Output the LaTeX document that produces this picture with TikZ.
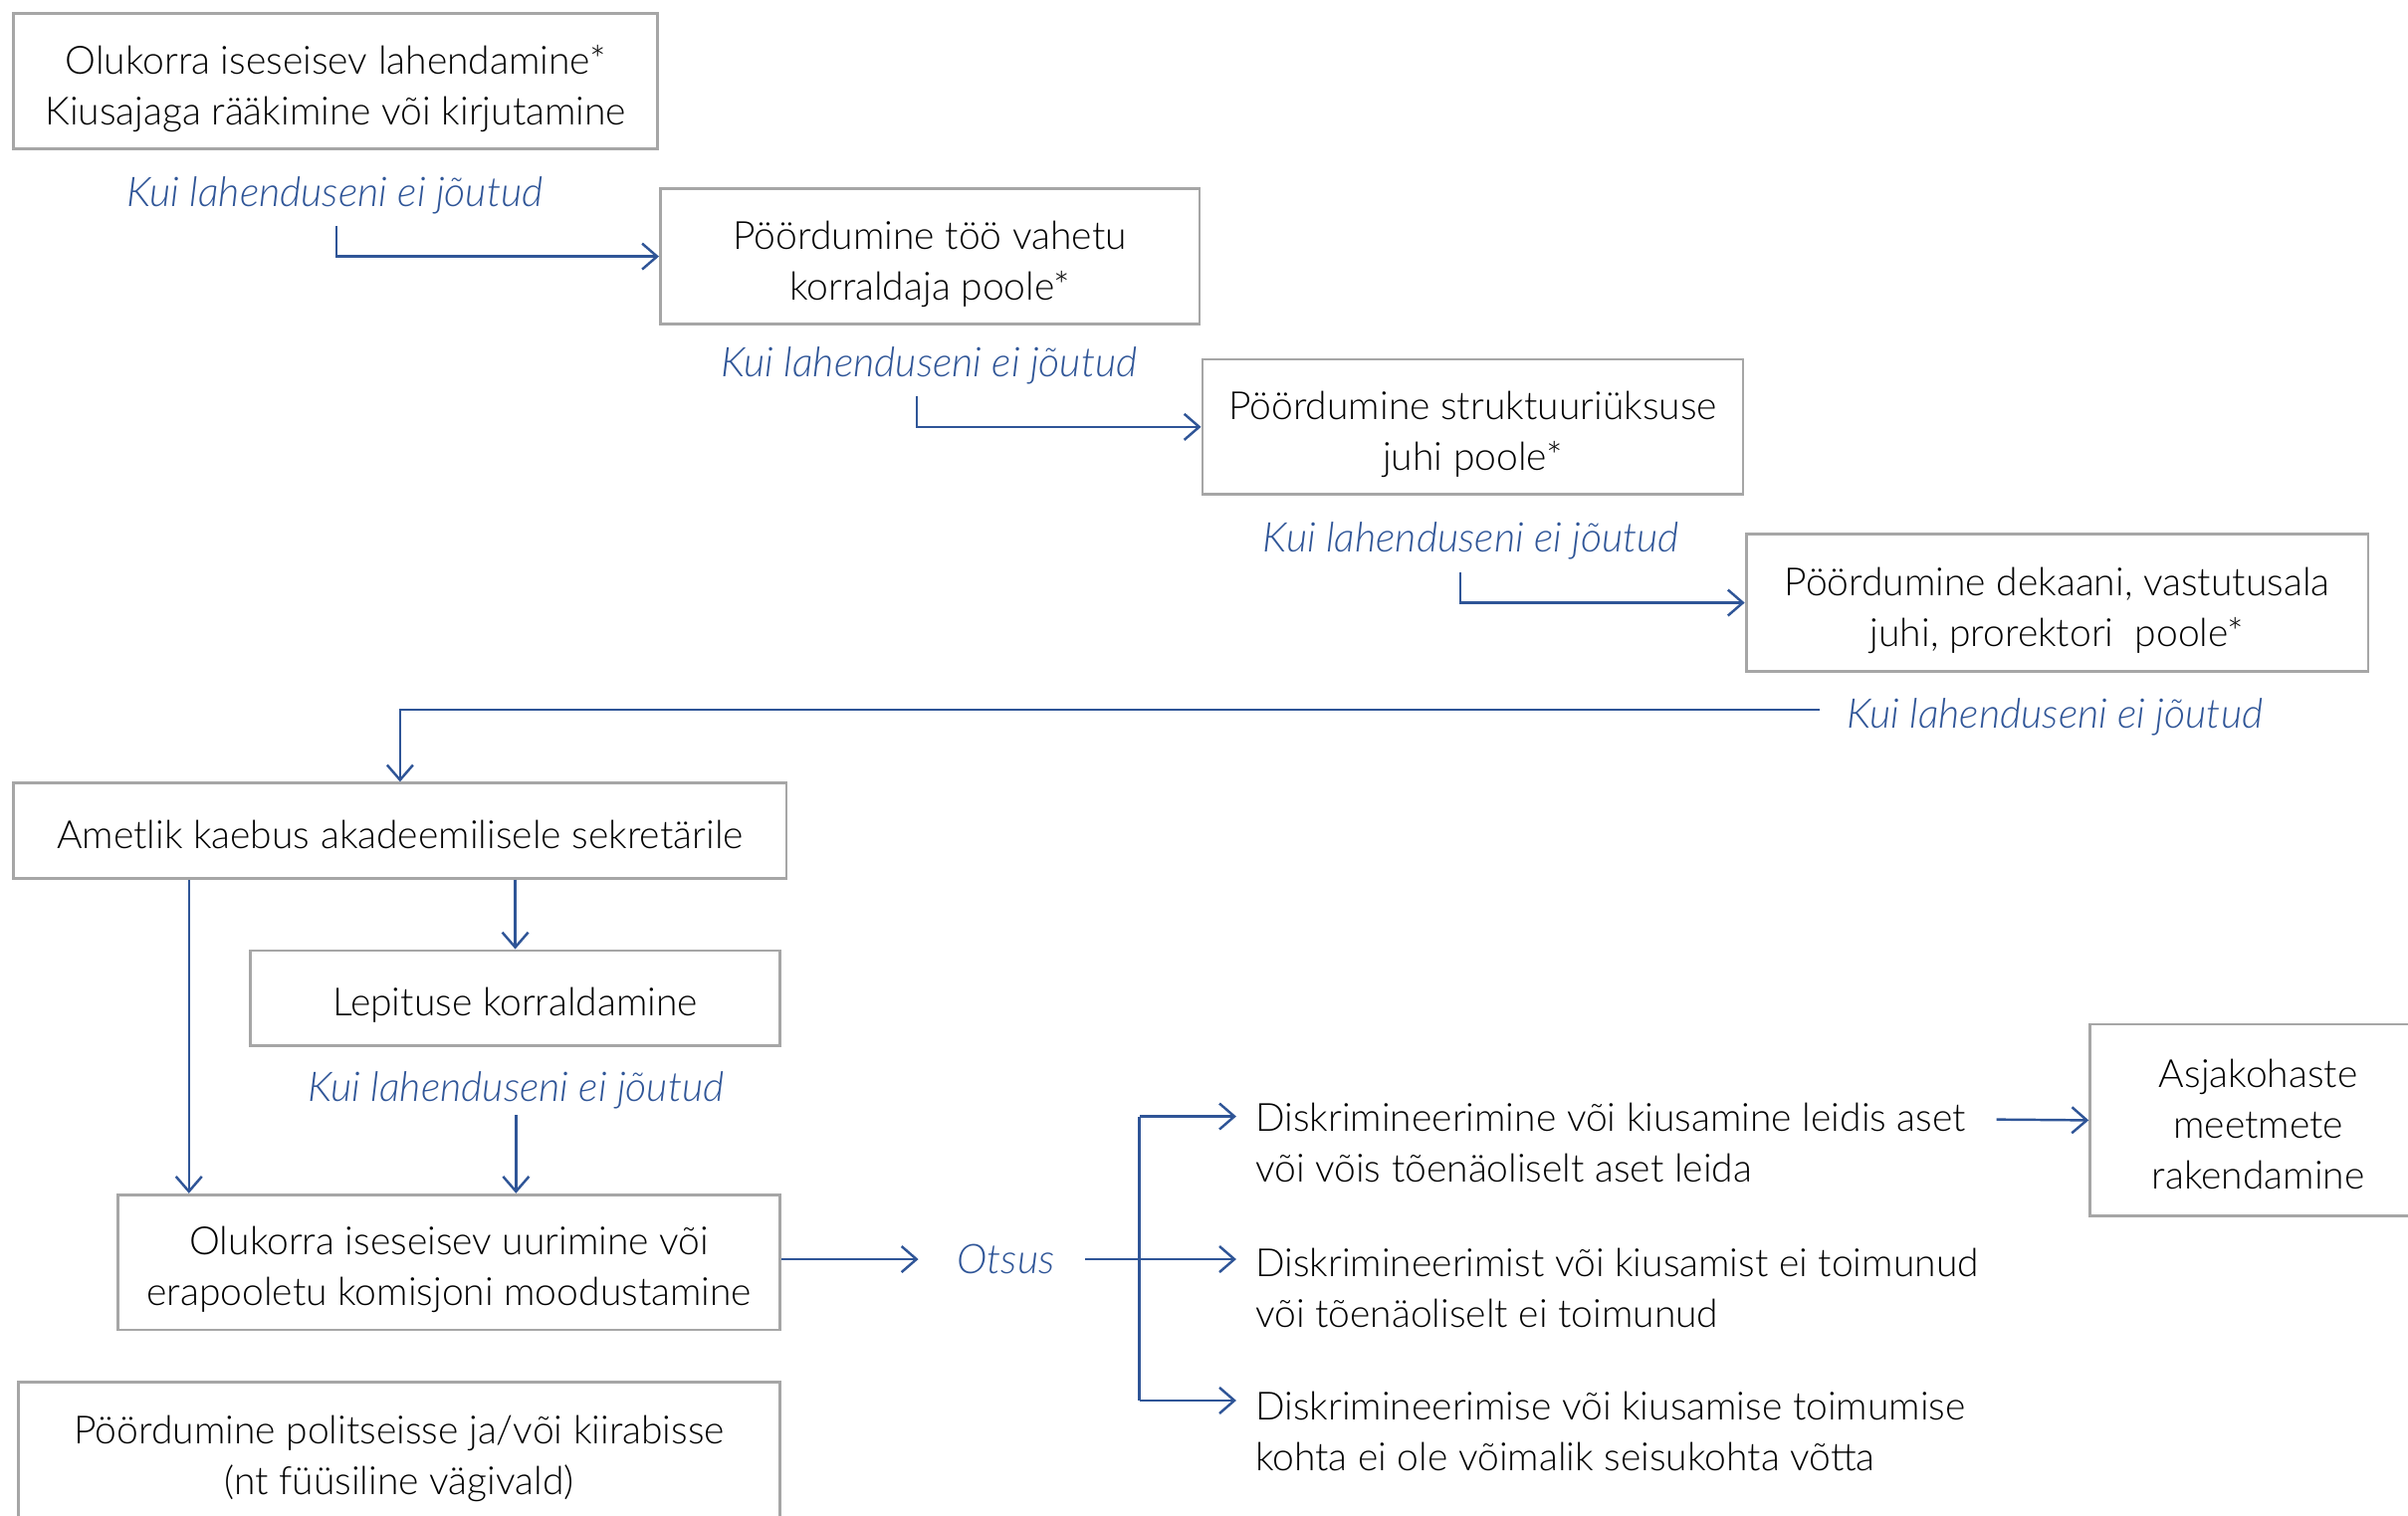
\documentclass[tikz,border=0pt]{standalone}
\usepackage{fontspec}
\setmainfont{Lato}[UprightFont=* Light, ItalicFont=* Light Italic]
\usetikzlibrary{arrows.meta}
\definecolor{bl}{HTML}{2F5597}
\definecolor{gr}{HTML}{A6A6A6}
\newcommand\bxt[1]{\begin{tabular}{@{}c@{}}#1\end{tabular}}
\begin{document}
\begin{tikzpicture}[x=0.015427cm, y=-0.015427cm,
  box/.style={draw=gr, line width=0.8pt, inner sep=0pt, text height=14pt, text depth=4pt, font=\fontsize{11.1}{14.45}\selectfont},
  lab/.style={text=bl, font=\fontsize{11.7}{14.45}\selectfont\itshape, inner sep=1pt},
  arr/.style={draw=bl, line width=0.7pt, -{Straight Barb[length=1.5mm,width=2.6mm]}},
  ln/.style={draw=bl, line width=0.7pt},
  txt/.style={align=left, anchor=west, inner xsep=0.185cm, inner ysep=0pt, font=\fontsize{11.1}{14.45}\selectfont}]
\useasboundingbox (0,0) rectangle (1568,987);
% boxes
\node[box, minimum width=6.464cm, minimum height=1.358cm] (a) at (218.5,53) {\bxt{Olukorra iseseisev lahendamine*\\Kiusajaga rääkimine või kirjutamine}};
\node[box, minimum width=5.415cm, minimum height=1.358cm] (b) at (605.5,167) {\bxt{Pöördumine töö vahetu\\korraldaja poole*}};
\node[box, minimum width=5.430cm, minimum height=1.358cm] (c) at (959,278) {\bxt{Pöördumine struktuuriüksuse\\juhi poole*}};
\node[box, minimum width=6.248cm, minimum height=1.373cm] (d) at (1339.5,392.5) {\bxt{Pöördumine dekaani, vastutusala\\juhi, prorektori\ \ poole*}};
\node[box, minimum width=7.760cm, minimum height=0.956cm] (e) at (260.5,541) {\bxt{Ametlik kaebus akadeemilisele sekretärile}};
\node[box, minimum width=5.322cm, minimum height=0.956cm] (f) at (335.5,650) {\bxt{Lepituse korraldamine}};
\node[box, minimum width=6.649cm, minimum height=1.358cm] (g) at (292.5,822) {\bxt{Olukorra iseseisev uurimine või\\erapooletu komisjoni moodustamine}};
\node[box, text depth=6pt, minimum width=7.652cm, minimum height=1.466cm] (h) at (260,947.5) {\bxt{Pöördumine politseisse ja/või kiirabisse\\(nt füüsiline vägivald)}};
\node[box, minimum width=3.379cm, minimum height=1.928cm] (i) at (1470.5,729.5) {\bxt{Asjakohaste\\meetmete\\rakendamine}};
% labels
\node[lab] (l1) at (218,127) {Kui lahenduseni ei jõutud};
\node[lab] (l2) at (605,238) {Kui lahenduseni ei jõutud};
\node[lab] (l3) at (958,352) {Kui lahenduseni ei jõutud};
\node[lab] (l4) at (1338,467) {Kui lahenduseni ei jõutud};
\node[lab] (l5) at (336,710) {Kui lahenduseni ei jõutud};
\node[lab, inner xsep=0.3cm] (ot) at (655,820) {Otsus};
% outcome texts
\node[txt] (d1) at (805,744) {Diskrimineerimine või kiusamine leidis aset\\või võis tõenäoliselt aset leida};
\node[txt] (d2) at (805,839) {Diskrimineerimist või kiusamist ei toimunud\\või tõenäoliselt ei toimunud};
\node[txt] (d3) at (805,932) {Diskrimineerimise või kiusamise toimumise\\kohta ei ole võimalik seisukohta võtta};
% connectors
\coordinate (s1) at (219,147);
\coordinate (s2) at (597,258);
\coordinate (s3) at (951,373);
\coordinate (s4) at (1185,462);
\coordinate (s5) at (336,726);
\coordinate (c123) at (123,0);
\coordinate (c598) at (598,0);
\coordinate (br1) at (742,727);
\coordinate (br3) at (742,912);
\coordinate (t1) at (1300,729);
\draw[arr] (s1) |- (b.west);
\draw[arr] (s2) |- (c.west);
\draw[arr] (s3) |- (d.west);
\draw[arr] (s4) -| (e.north);
\draw[arr] (e.south -| f.north) -- (f.north);
\draw[arr] (e.south -| c123) -- (g.north -| c123);
\draw[arr] (s5) -- (g.north -| s5);
\draw[arr] (g.east |- ot.west) -- (ot.west -| c598);
\draw[arr] (ot.east) -- (ot.east -| d2.west);
\draw[ln] (br1) -- (br3);
\draw[arr] (br1) -- (br1 -| d1.west);
\draw[arr] (br3) -- (br3 -| d3.west);
\draw[arr] (t1) -- (i.west);
\end{tikzpicture}
\end{document}
